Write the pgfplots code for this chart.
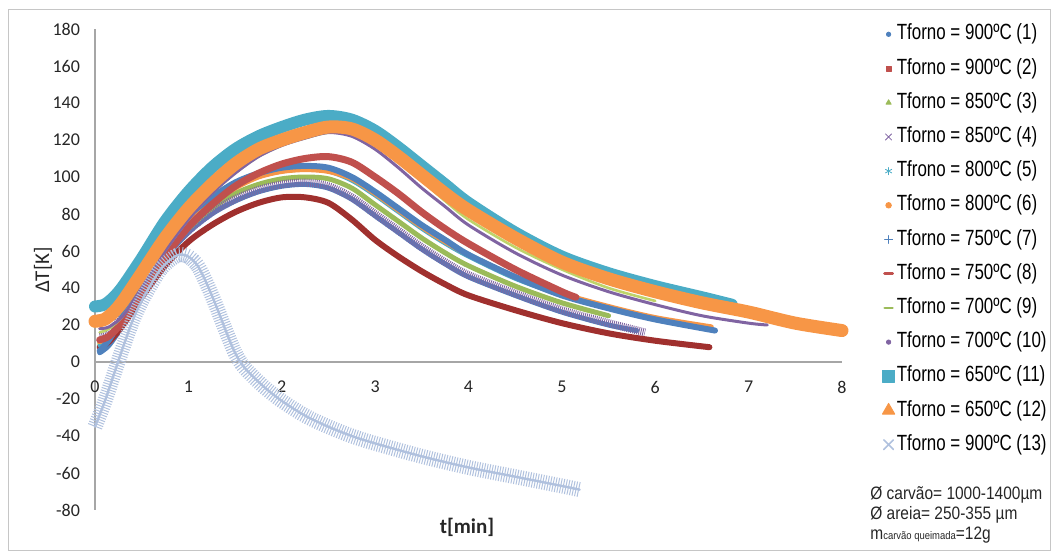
\documentclass[border=0pt]{standalone}
\usepackage{fontspec}
\setmainfont{Carlito}
\newfontfamily\legfont[FakeStretch=0.77]{Liberation Sans}
\newfontfamily\annfont[FakeStretch=0.86]{Liberation Sans}
\usepackage{pgfplots}
\pgfplotsset{compat=1.18}
\definecolor{cblue}{HTML}{4F81BD}
\definecolor{cred}{HTML}{C0504D}
\definecolor{cdred}{HTML}{A0302E}
\definecolor{cgreen}{HTML}{9BBB59}
\definecolor{cygreen}{HTML}{BFD46A}
\definecolor{cpurple}{HTML}{8064A2}
\definecolor{cteal}{HTML}{4BACC6}
\definecolor{corange}{HTML}{F79646}
\definecolor{cgrey}{HTML}{B0C1DE}
\definecolor{axisgray}{HTML}{A6A6A6}

\begin{document}
\begin{tikzpicture}
\begin{axis}[
  at={(47.5pt,24pt)}, anchor=south west,
  width=373.5pt, height=240.5pt, scale only axis,
  xmin=0, xmax=8, ymin=-80, ymax=180,
  axis x line=middle, axis y line=left,
  axis line style={-, draw=axisgray, line width=0.6pt},
  hide obscured x ticks=false, hide obscured y ticks=false,
  xtick={0,...,8}, ytick={-80,-60,...,180},
  major tick length=0pt,
  tick label style={font=\fontsize{9}{10}\selectfont, text=black!85},
  /pgf/number format/assume math mode=true,
  xticklabel style={yshift=-6pt},
  yticklabel style={xshift=-4pt},
  clip=false,
  legend style={at={(1.0535,1.0137)}, anchor=north west, draw=none, fill=none,
    inner sep=0pt, row sep=5.6pt,
    font=\legfont\fontsize{11}{12}\selectfont,
    nodes={inner sep=1pt, text height=7.5pt, text depth=2pt}},
  legend cell align=left,
  legend image code/.code={\draw[#1] plot coordinates {(0pt,0pt)};},
  every axis plot/.append style={line join=round, line cap=round},
]
% legend entries
\addlegendimage{mark=*, mark size=1.1pt, color=cblue}
\addlegendentry{Tforno = 900ºC (1)}
\addlegendimage{mark=square*, mark size=1.2pt, color=cred}
\addlegendentry{Tforno = 900ºC (2)}
\addlegendimage{mark=triangle*, mark size=1.5pt, color=cgreen}
\addlegendentry{Tforno = 850ºC (3)}
\addlegendimage{mark=x, mark size=2.2pt, color=cpurple}
\addlegendentry{Tforno = 850ºC (4)}
\addlegendimage{mark=asterisk, mark size=1.8pt, color=cteal}
\addlegendentry{Tfrono = 800ºC (5)}
\addlegendimage{mark=*, mark size=1.4pt, color=corange}
\addlegendentry{Tforno = 800ºC (6)}
\addlegendimage{mark=+, mark size=2pt, color=cblue}
\addlegendentry{Tforno = 750ºC (7)}
\addlegendimage{mark=-, mark size=2pt, line width=1.4pt, color=cred}
\addlegendentry{Tforno = 750ºC (8)}
\addlegendimage{mark=-, mark size=2pt, line width=1.2pt, color=cgreen}
\addlegendentry{Tforno = 700ºC (9)}
\addlegendimage{mark=*, mark size=1.1pt, color=cpurple}
\addlegendentry{Tforno = 700ºC (10)}
\addlegendimage{mark=square*, mark size=3pt, color=cteal}
\addlegendentry{Tforno = 650ºC (11)}
\addlegendimage{mark=triangle*, mark size=3.6pt, color=corange}
\addlegendentry{Tforno = 650ºC (12)}
\addlegendimage{mark=x, mark size=3.4pt, color=cgrey, line width=0.8pt}
\addlegendentry{Tforno = 900ºC (13)}

% (1)
\addplot[forget plot, mark=none, smooth, color=cblue, line width=2.5pt] coordinates {
(0.05,5)(0.15,9)(0.3,20)(0.5,37)(0.75,56)(1,70)(1.25,80)(1.5,87)(1.75,92)(2,95)(2.25,96)(2.5,94)(2.75,88)(3,79)(3.25,70)(3.5,61)(3.75,53)(4,46)(4.5,36)(5,27)(5.5,20)(5.8,17)};
% (2)
\addplot[forget plot, mark=none, smooth, color=cdred, line width=3pt] coordinates {
(0.05,8)(0.15,11)(0.3,20)(0.5,35)(0.75,52)(1,65)(1.25,74)(1.5,81)(1.75,86)(2,89)(2.25,89)(2.5,86)(2.75,77)(3,66)(3.25,57)(3.5,49)(3.75,42)(4,36)(4.5,28)(5,21)(5.5,15.5)(6,11.5)(6.58,8)};
% (3)
\addplot[forget plot, mark=none, smooth, color=cgreen, line width=2.5pt] coordinates {
(0.05,10)(0.15,13)(0.3,23)(0.5,39)(0.75,58)(1,72)(1.25,83)(1.5,91)(1.75,96)(2,99)(2.25,100)(2.5,99)(2.75,94)(3,85)(3.25,76)(3.5,67)(3.75,59)(4,52)(4.5,41)(5,32)(5.5,25)};
% (4)
\addplot[forget plot, mark=none, smooth, color=cpurple, line width=4pt, dash pattern=on 0.45pt off 0.55pt, line cap=butt] coordinates {
(0.05,14)(0.15,16)(0.3,25)(0.5,40)(0.75,58)(1,71)(1.25,81)(1.5,88)(1.75,93)(2,96)(2.25,97)(2.5,95)(2.75,89)(3,80)(3.25,71)(3.5,62)(3.75,54)(4,47)(4.5,37)(5,28)(5.5,21)(5.89,16)};
% (5)
\addplot[forget plot, mark=none, smooth, color=cteal, line width=2pt] coordinates {
(0.05,9)(0.15,12)(0.3,23)(0.5,41)(0.75,61)(1,76)(1.25,87)(1.5,95)(1.75,100)(2,103)(2.25,104)(2.5,103)(2.75,98)(3,90)(3.25,81)(3.5,72)(3.75,64)(4,57)(4.5,45)(5,36)(5.5,29)(6,23)(6.4,19)};
% (6)
\addplot[forget plot, mark=none, smooth, color=corange, line width=2.5pt] coordinates {
(0.05,11)(0.15,14)(0.3,24)(0.5,41)(0.75,60)(1,75)(1.25,86)(1.5,94)(1.75,100)(2,103)(2.25,104)(2.5,103)(2.75,99)(3,91)(3.25,82)(3.5,73)(3.75,65)(4,58)(4.5,46)(5,37)(5.5,30)(6,24)(6.6,19)};
% (7)
\addplot[forget plot, mark=none, smooth, color=cblue, line width=3pt] coordinates {
(0.05,6)(0.15,12)(0.3,25)(0.5,44)(0.75,64)(1,79)(1.25,89)(1.5,97)(1.75,102)(2,105)(2.25,106)(2.5,105)(2.75,100)(3,92)(3.25,83)(3.5,74)(3.75,66)(4,58)(4.5,46)(5,36)(5.5,29)(6,23)(6.64,17)};
% (8)
\addplot[forget plot, mark=none, smooth, color=cred, line width=3.5pt] coordinates {
(0.05,12)(0.15,14)(0.3,22)(0.5,38)(0.75,57)(1,73)(1.25,85)(1.5,95)(1.75,102)(2,107)(2.25,110)(2.5,111)(2.75,108)(3,100)(3.25,91)(3.5,81)(3.75,72)(4,64)(4.5,50)(5,38)(5.15,35)};
% (9)
\addplot[forget plot, mark=none, smooth, color=cygreen, line width=1.3pt] coordinates {
(0.05,16)(0.15,18)(0.3,25)(0.5,40)(0.75,60)(1,77)(1.25,91)(1.5,102)(1.75,111)(2,117)(2.25,121)(2.5,124)(2.75,124)(3,118)(3.25,109)(3.5,98)(3.75,87)(4,77)(4.5,62)(5,50)(5.5,40)(6,33)};
% (10)
\addplot[forget plot, mark=none, smooth, color=cpurple, line width=1.5pt] coordinates {
(0.05,18)(0.15,19)(0.3,25)(0.5,40)(0.75,60)(1,77)(1.25,91)(1.5,102)(1.75,111)(2,117)(2.25,121)(2.5,124)(2.75,122)(3,115)(3.25,105)(3.5,94)(3.75,84)(4,74)(4.5,59)(5,47)(5.5,38)(6,31)(6.5,25)(7,21)(7.2,20)};
% (11)
\addplot[forget plot, mark=none, smooth, color=cteal, line width=6pt] coordinates {
(0,30)(0.1,31)(0.2,35)(0.3,41)(0.5,56)(0.75,76)(1,92)(1.25,105)(1.5,115)(1.75,122)(2,127)(2.25,131)(2.5,133)(2.75,131)(3,125)(3.25,116)(3.5,106)(3.75,96)(4,86)(4.5,70)(5,57)(5.5,48)(6,41)(6.5,35)(6.82,31)};
% (12)
\addplot[forget plot, mark=none, smooth, color=corange, line width=6.5pt] coordinates {
(0,22)(0.1,23)(0.2,27)(0.3,33)(0.5,48)(0.75,67)(1,83)(1.25,96)(1.5,107)(1.75,115)(2,120)(2.25,124)(2.5,127)(2.75,126)(3,120)(3.25,111)(3.5,101)(3.75,91)(4,82)(4.5,67)(5,54)(5.5,45)(6,38)(6.5,32)(7,27)(7.5,21)(8,17)};
% (13)
\addplot[forget plot, mark=none, smooth, color=cgrey, line width=7.5pt, dash pattern=on 0.5pt off 0.8pt, line cap=butt] coordinates {
(0,-35)(0.1,-22)(0.2,-7)(0.3,8)(0.4,22)(0.5,33)(0.6,42)(0.7,50)(0.8,55)(0.9,58)(1.0,57)(1.1,52)(1.2,42)(1.3,30)(1.4,17)(1.5,5)(1.6,-3)(1.8,-13)(2.0,-21)(2.25,-29)(2.5,-35)(2.75,-40)(3.0,-44)(3.5,-51)(4.0,-57)(4.5,-62)(5.0,-67)(5.19,-69)};
\addplot[forget plot, mark=none, smooth, color=cgrey, line width=1.2pt] coordinates {
(0,-35)(0.1,-22)(0.2,-7)(0.3,8)(0.4,22)(0.5,33)(0.6,42)(0.7,50)(0.8,55)(0.9,58)(1.0,57)(1.1,52)(1.2,42)(1.3,30)(1.4,17)(1.5,5)(1.6,-3)(1.8,-13)(2.0,-21)(2.25,-29)(2.5,-35)(2.75,-40)(3.0,-44)(3.5,-51)(4.0,-57)(4.5,-62)(5.0,-67)(5.19,-69)};
\end{axis}
% axis titles and note
\node[font=\fontsize{10.5}{12}\selectfont\bfseries, text=black!85] at (233.5pt,15.5pt) {t[min]};
\node[rotate=90, font=\fontsize{10.5}{12}\selectfont, text=black!85] at (21.5pt,144pt) {ΔT[K]};
\node[anchor=west, inner sep=0pt, font=\annfont\fontsize{9}{10}\selectfont, text=black!85] at (435pt,31.5pt) {Ø carvão= 1000-1400µm};
\node[anchor=west, inner sep=0pt, font=\annfont\fontsize{9}{10}\selectfont, text=black!85] at (435pt,21.5pt) {Ø areia= 250-355 µm};
\node[anchor=west, inner sep=0pt, font=\annfont\fontsize{9}{10}\selectfont, text=black!85] at (435pt,11.5pt) {m{\fontsize{5.5}{6}\selectfont carvão queimada}=12g};
\draw[gray!45, line width=0.5pt] (4pt,3.5pt) rectangle (525pt,274pt);
\pgfresetboundingbox
\path (0,0) rectangle (528.5pt,279pt);
\end{tikzpicture}
\end{document}
